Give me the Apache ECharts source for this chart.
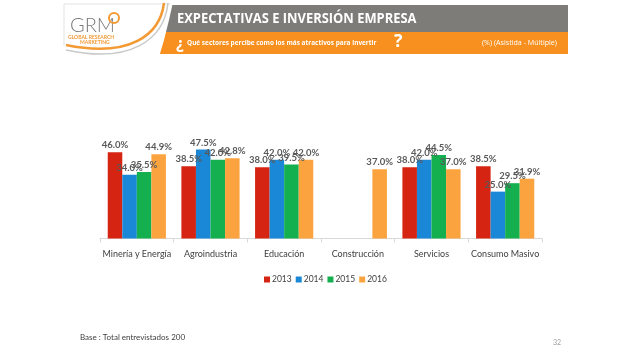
<!DOCTYPE html>
<html><head><meta charset="utf-8">
<script src="https://cdn.jsdelivr.net/npm/echarts@6/dist/echarts.min.js"></script>
<style>html,body{margin:0;padding:0;background:#fff}#c{width:640px;height:357px}</style>
</head><body><div id="c"></div>
<script>
const categories = ['Minería y Energía','Agroindustria','Educación','Construcción','Servicios','Consumo Masivo'];
const years = ['2013','2014','2015','2016'];
const v2013 = [46.0, 38.5, 38.0, null, 38.0, 38.5];
const v2014 = [34.0, 47.5, 42.0, null, 42.0, 25.0];
const v2015 = [35.5, 42.0, 39.5, null, 44.5, 29.5];
const v2016 = [44.9, 42.8, 42.0, 37.0, 37.0, 31.9];
const colors = ['#d62412','#1a88d6','#14b050','#fba43f'];

const whitePoly = [[62,2],[173,2],[169,20],[164,40],[159,57],[62,57]];

const chart = echarts.init(document.getElementById('c'));
const mk = (name, data, i) => ({
  name, type:'bar', data, barGap:'0%', barCategoryGap:'21%',
  itemStyle:{color:colors[i]},
  label:{show:true, position:'top', distance:2, fontFamily:'Lato', fontWeight:'bold', fontSize:9.5, color:'#595959',
    formatter:p=>p.value==null?'':p.value.toFixed(1)+'%'}
});
chart.setOption({
  animation:false,
  grid:{left:100, right:98, top:144.75, bottom:118.5},
  xAxis:{type:'category', data:categories,
    axisLine:{lineStyle:{color:'#d9d9d9'}},
    axisTick:{show:true, length:4, lineStyle:{color:'#d9d9d9'}},
    axisLabel:{fontFamily:'Lato', fontSize:9, color:'#404040', margin:11, interval:0}},
  yAxis:{type:'value', min:0, max:50, show:false, splitLine:{show:false}},
  legend:{data:years, left:259, top:270, icon:'rect', itemWidth:6, itemHeight:6, itemGap:4,
    textStyle:{fontFamily:'Lato', fontSize:8.5, color:'#404040', padding:[0,0,0,-3]}},
  series:[mk('2013',v2013,0), mk('2014',v2014,1), mk('2015',v2015,2), mk('2016',v2016,3)],
  graphic:[
    {type:'rect', shape:{x:150,y:5,width:418,height:27}, style:{fill:'#7d7c78'}, z:1},
    {type:'rect', shape:{x:150,y:32,width:418,height:22}, style:{fill:'#f7901e'}, z:1},
    {type:'polygon', shape:{points:whitePoly}, style:{fill:'#ffffff'}, z:2},
    {type:'line', shape:{x1:64,y1:4,x2:170,y2:4}, style:{stroke:'#e3e3e3', lineWidth:1}, z:3},
    {type:'line', shape:{x1:64,y1:4,x2:64,y2:46}, style:{stroke:'#e3e3e3', lineWidth:1}, z:3},
    {type:'bezierCurve', shape:{x1:164,y1:3,cpx1:160,cpy1:35,cpx2:130,cpy2:58,x2:66,y2:45}, style:{stroke:'#f39a35', lineWidth:2.5, fill:null}, z:4},
    {type:'bezierCurve', shape:{x1:168,y1:3,cpx1:164,cpy1:40,cpx2:130,cpy2:64,x2:66,y2:50}, style:{stroke:'#c9c9c9', lineWidth:1.5, fill:null}, z:4},
    {type:'text', left:70, top:16, style:{text:'GRM', font:'300 20px Lato', fill:'#7a7a7a'}, z:5},
    {type:'circle', shape:{cx:114,cy:18,r:5}, style:{fill:'none', stroke:'#f39a35', lineWidth:2}, z:5},
    {type:'text', left:68, top:35, style:{text:'GLOBAL RESEARCH', font:'bold 5px Lato', fill:'#f39a35'}, z:5},
    {type:'text', left:80, top:40, style:{text:'MARKETING', font:'bold 5px Lato', fill:'#f39a35'}, z:5},
    {type:'text', x:177, y:11, scaleX:0.86, style:{text:'EXPECTATIVAS E INVERSIÓN EMPRESA', font:'bold 15px "Open Sans"', fill:'#ffffff'}, z:5},
    {type:'text', x:176, y:36, style:{text:'¿', font:'bold 16px "Open Sans"', fill:'#ffffff'}, z:5},
    {type:'text', x:187, y:39, scaleX:0.86, style:{text:'Qué sectores percibe como los más atractivos para invertir', font:'bold 7.5px "Open Sans"', fill:'#ffffff'}, z:5},
    {type:'text', x:394, y:33, style:{text:'?', font:'bold 18px "Open Sans"', fill:'#ffffff'}, z:5},
    {type:'text', x:482, y:39, scaleX:0.95, style:{text:'(%) (Asistida - Múltiple)', font:'7.5px "Open Sans"', fill:'#ffffff'}, z:5},
    {type:'text', x:80, y:333, style:{text:'Base : Total entrevistados 200', font:'8px Lato', fill:'#404040'}, z:5},
    {type:'text', x:553, y:339, style:{text:'32', font:'7px Lato', fill:'#a0a0a0'}, z:5}
  ]
});
</script></body></html>
